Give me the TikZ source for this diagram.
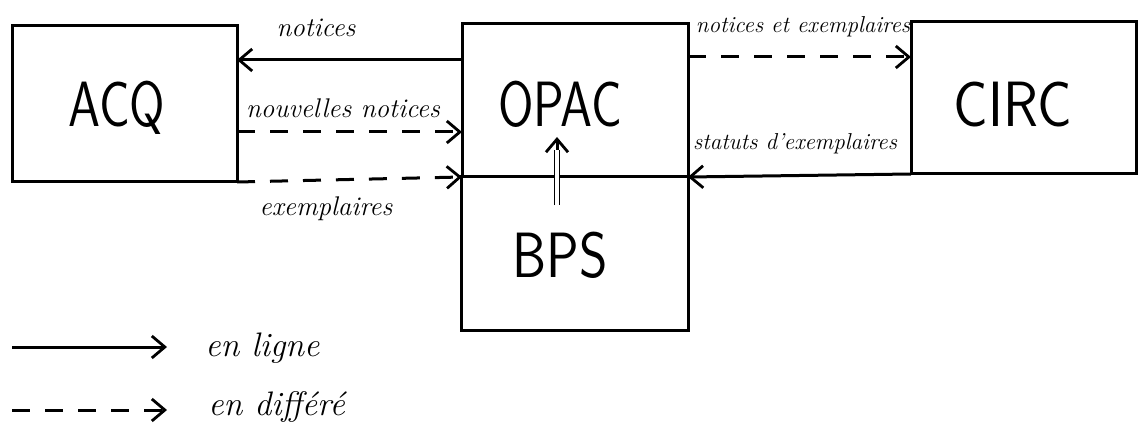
\documentclass[tikz,border=0pt]{standalone}
\usetikzlibrary{arrows.meta}
\tikzset{
  box/.style={draw, rectangle, line width=1.5pt, inner sep=0pt, outer sep=0pt},
  boxtext/.style={font=\sffamily\fontsize{32}{32}\selectfont, inner sep=0pt, anchor=base},
  flow/.style={line width=1.5pt, -{Straight Barb[length=6.5pt,width=11pt,line width=1.4pt]}},
  online/.style={flow},
  deferred/.style={flow, dash pattern=on 9pt off 7.5pt},
  lab/.style={font=\itshape\fontsize{13.5}{13.5}\selectfont, inner sep=0pt, anchor=base},
  smalllab/.style={font=\itshape\fontsize{11.5}{11.5}\selectfont, inner sep=0pt, anchor=base},
  leglab/.style={font=\itshape\fontsize{17}{17}\selectfont, inner sep=0pt, anchor=base west},
}
\begin{document}
\begin{tikzpicture}[x=0.5pt, y=-0.5pt]
\useasboundingbox (0,0) rectangle (1138,443);
% boxes
\node[box, minimum width=112.5pt, minimum height=78pt] (acq) at (124.5,104) {};
\node[box, minimum width=113pt, minimum height=76.5pt] (opac) at (575,100.5) {};
\node[box, minimum width=113.5pt, minimum height=76.5pt] (bps) at (574.5,253.5) {};
\node[box, minimum width=112.5pt, minimum height=76pt] (circ) at (1023.5,98) {};
% box texts
\node[boxtext] (acqt) at (117,127) {\scalebox{0.8}[1]{ACQ}};
\node[boxtext] (opact) at (560,127) {\scalebox{0.8}[1]{OPAC}};
\node[boxtext] (bpst) at (560,277) {\scalebox{0.85}[1]{BPS}};
\node[boxtext] (circt) at (1013,127) {\scalebox{0.9}[1]{CIRC}};
% connectors
\draw[online] (opac.west |- 0,60) -- (acq.east |- 0,60);
\draw[deferred] (acq.east |- 0,132) -- (opac.west |- 0,132);
\draw[deferred] (acq.south east) -- (opac.south west);
\draw[deferred] (opac.east |- 0,57) -- (circ.west |- 0,57);
\draw[online] (circ.south west) -- (opac.south east);
% BPS -> OPAC
\coordinate (bpsup) at (557,205);
\coordinate (opacmid) at (557,150);
\coordinate (opacin) at (557,137);
\draw[line width=0.8pt, double, double distance=1.6pt] (bpsup) -- (opacmid);
\draw[flow] (opacmid) -- (opacin);
% labels
\node[lab] (l1) at (316,37) {notices};
\node[lab] (l2) at (343,118) {nouvelles notices};
\node[lab] (l3) at (326,215) {exemplaires};
\node[smalllab] (l4) at (803,33) {notices et exemplaires};
\node[smalllab] (l5) at (795,150) {statuts d'exemplaires};
% legend
\coordinate (a1s) at (12,347);
\coordinate (a1e) at (167,347);
\coordinate (a2s) at (12,410);
\coordinate (a2e) at (167,410);
\draw[online] (a1s) -- (a1e);
\draw[deferred] (a2s) -- (a2e);
\node[leglab] (g1) at (205,356) {en ligne};
\node[leglab] (g2) at (208,415) {en différé};
\end{tikzpicture}
\end{document}
